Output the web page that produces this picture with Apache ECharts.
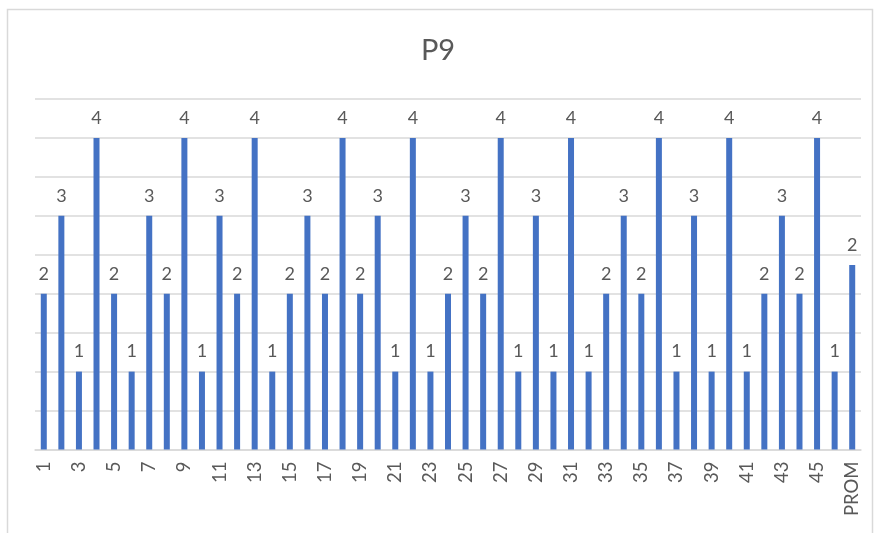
<!DOCTYPE html>
<html>
<head>
<meta charset="utf-8">
<script src="https://cdn.jsdelivr.net/npm/echarts@6/dist/echarts.min.js"></script>
<style>
  html, body { margin: 0; padding: 0; background: #fff; }
  #chart { width: 876px; height: 533px; }
</style>
</head>
<body>
<div id="chart"></div>
<script>
// Categories: item numbers 1..46 plus the average column
const categories = [
  '1','2','3','4','5','6','7','8','9','10',
  '11','12','13','14','15','16','17','18','19','20',
  '21','22','23','24','25','26','27','28','29','30',
  '31','32','33','34','35','36','37','38','39','40',
  '41','42','43','44','45','46','PROM'
];

// Score per item; last entry is the average (PROM)
const scores = [
  2, 3, 1, 4, 2, 1, 3, 2, 4, 1,
  3, 2, 4, 1, 2, 3, 2, 4, 2, 3,
  1, 4, 1, 2, 3, 2, 4, 1, 3, 1,
  4, 1, 2, 3, 2, 4, 1, 3, 1, 4,
  1, 2, 3, 2, 4, 1, 2.37
];

const chartTitle = 'P9';

const font = 'Lato, "Open Sans", "Noto Sans", sans-serif';
const textColor = '#595959';
const gridColor = '#d9d9d9';

const chart = echarts.init(document.getElementById('chart'), null, { renderer: 'canvas' });

chart.setOption({
  animation: false,
  backgroundColor: '#ffffff',
  graphic: [{
    type: 'rect',
    shape: { x: 7.5, y: 9.5, width: 865, height: 530 },
    style: { fill: 'none', stroke: gridColor, lineWidth: 1.5 },
    silent: true
  }],
  title: {
    text: chartTitle,
    left: 'center',
    top: 31,
    textStyle: { fontFamily: font, fontSize: 29, fontWeight: 'normal', color: textColor }
  },
  grid: { left: 35, right: 15, top: 99, bottom: 83.5 },
  xAxis: {
    type: 'category',
    data: categories,
    axisLine: { show: true, lineStyle: { color: gridColor, width: 1.5 } },
    axisTick: { show: false },
    axisLabel: {
      interval: 1,
      rotate: 90,
      margin: 12,
      fontFamily: font,
      fontSize: 18.5,
      color: textColor
    }
  },
  yAxis: {
    type: 'value',
    min: 0,
    max: 4.5,
    interval: 0.5,
    axisLine: { show: false },
    axisTick: { show: false },
    axisLabel: { show: false },
    splitLine: { lineStyle: { color: gridColor, width: 1.5 } }
  },
  series: [{
    type: 'bar',
    data: scores,
    barWidth: 6,
    itemStyle: { color: '#4472c4' },
    label: {
      show: true,
      position: 'top',
      distance: 11,
      fontFamily: font,
      fontSize: 18,
      color: textColor,
      formatter: p => Number(p.value).toFixed(0)
    }
  }]
});
</script>
</body>
</html>
